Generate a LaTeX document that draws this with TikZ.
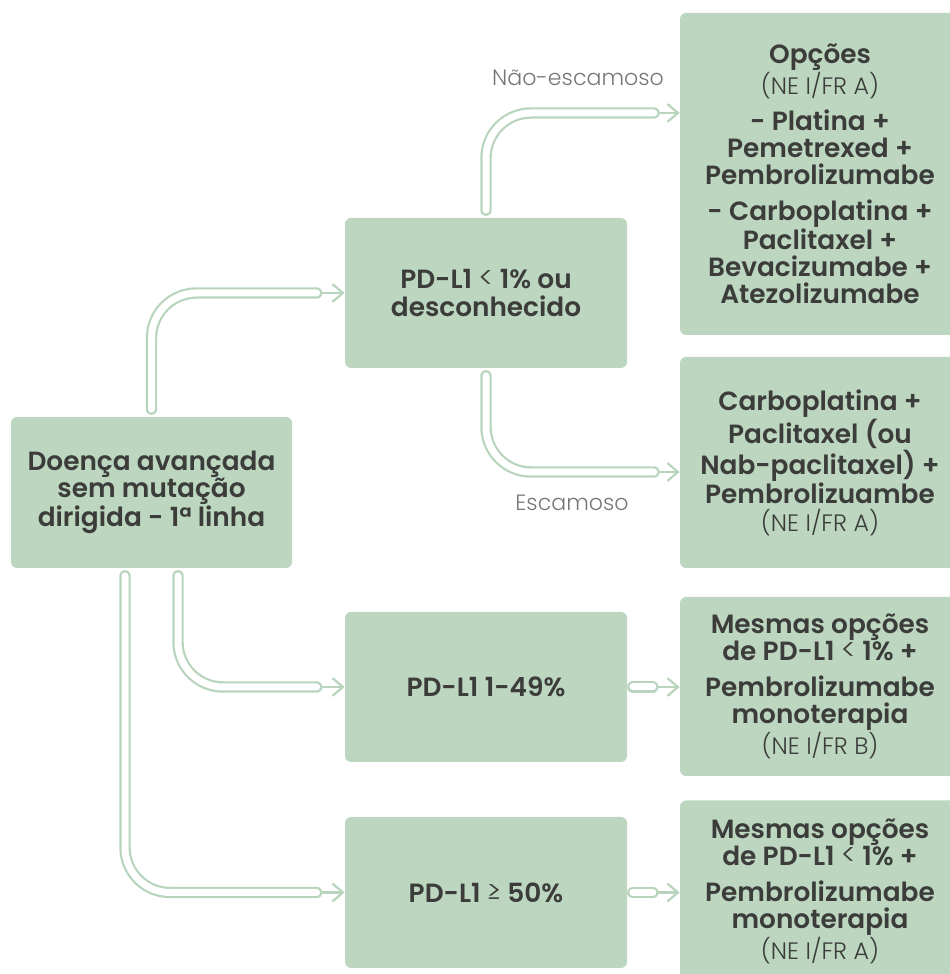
\documentclass[tikz,border=0pt]{standalone}
\usepackage{fontspec}
\setmainfont{Poppins}[BoldFont={Poppins SemiBold}]
\newfontfamily\lightfont{Poppins Light}
\usetikzlibrary{
  arrows.meta,
  positioning
}
\definecolor{boxgreen}{RGB}{188,214,192}
\definecolor{pipegreen}{RGB}{184,212,188}
\definecolor{inkgray}{RGB}{60,60,59}
\definecolor{labelgray}{RGB}{118,118,118}
\newcommand{\nefr}[1]{{\lightfont\mdseries\fontsize{13.5}{14}\selectfont #1}}
\newcommand{\thin}[1]{{\lightfont\mdseries\fontsize{17}{15.4}\selectfont #1}}

\begin{document}
\begin{tikzpicture}[
    box/.style={fill=boxgreen, rounded corners=0.12cm, text=inkgray, align=center,
      font=\fontsize{15}{15.4}\selectfont\bfseries, inner sep=0pt},
    midbox/.style={box, minimum width=5.64cm, minimum height=3.0cm},
    optbox/.style={box, minimum width=5.6cm},
    pipe/.style={draw=pipegreen, line width=1.25pt, double=white, double distance=0.14cm,
      line cap=round, rounded corners=0.9cm},
    tip/.style={draw=pipegreen, line width=1.25pt, line cap=round,
      -{Straight Barb[length=0.2cm, width=0.34cm, line cap=round]}},
    branch/.style={text=labelgray, font=\lightfont\fontsize{12.6}{13}\selectfont}
  ]
  \path[use as bounding box, clip] (0,0) rectangle (19,19.48);

  % left and middle column
  \node[box, minimum width=5.62cm, minimum height=3.02cm] (doenca) at (3.03,9.63)
    {Doença avançada\\ sem mutação\\ dirigida - 1ª linha};
  \node[midbox] (pdA) at (9.72,13.62) {PD-L1 \thin{<} 1\% ou\\ desconhecido};
  \node[midbox] (pdB) at (9.72,5.74) {PD-L1 1-49\%};
  \node[midbox, minimum height=3.02cm] (pdC) at (9.72,1.63) {PD-L1 \thin{≥} 50\%};

  % right column
  \node[optbox, minimum height=6.44cm] (optA) at (16.4,16.0)
    {Opções\\ \nefr{(NE I/FR A)}\\[5pt]
     - Platina +\\ Pemetrexed +\\ Pembrolizumabe\\[5pt]
     - Carboplatina +\\ Paclitaxel +\\ Bevacizumabe +\\ Atezolizumabe};
  \node[optbox, minimum height=4.22cm] (optB) at (16.4,10.23)
    {Carboplatina +\\ Paclitaxel (ou\\ Nab-paclitaxel) +\\ Pembrolizuambe\\ \nefr{(NE I/FR A)}};
  \node[optbox, minimum height=3.58cm] (optC) at (16.4,5.75)
    {Mesmas opções\\ de PD-L1 \thin{<} 1\% +\\[5pt] Pembrolizumabe\\ monoterapia\\ \nefr{(NE I/FR B)}};
  \node[optbox, minimum height=3.62cm] (optD) at (16.4,1.66)
    {Mesmas opções\\ de PD-L1 \thin{<} 1\% +\\[5pt] Pembrolizumabe\\ monoterapia\\ \nefr{(NE I/FR A)}};

  % branch labels
  \node[branch] (nonsq) at (11.56,17.92) {Não-escamoso};
  \node[branch] (sq) at (11.44,9.42) {Escamoso};

  % pipe ends
  \coordinate (eA) at ([xshift=-0.56cm]pdA.west);
  \coordinate (eB) at ([xshift=-0.56cm]pdB.west);
  \coordinate (eC) at ([xshift=-0.56cm]pdC.west);
  \coordinate (eN) at (13.08,17.22);
  \coordinate (eS) at (13.08,10.04);

  % connectors
  \draw[pipe] ([yshift=0.15cm]doenca.north) |- (eA);
  \draw[tip] ([xshift=0.12cm]eA) -- (pdA.west);
  \draw[pipe] ([xshift=0.53cm,yshift=-0.15cm]doenca.south) |- (eB);
  \draw[tip] ([xshift=0.12cm]eB) -- (pdB.west);
  \draw[pipe] ([xshift=-0.53cm,yshift=-0.15cm]doenca.south) |- (eC);
  \draw[tip] ([xshift=0.12cm]eC) -- (pdC.west);

  \draw[pipe] ([yshift=0.15cm]pdA.north) |- (eN);
  \draw[tip] ([xshift=0.12cm]eN) -- (optA.west |- eN);
  \draw[pipe] ([yshift=-0.15cm]pdA.south) |- (eS);
  \draw[tip] ([xshift=0.12cm]eS) -- (optB.west |- eS);

  \draw[pipe] ([xshift=0.11cm]pdB.east) -- ([xshift=0.51cm]pdB.east);
  \draw[tip] ([xshift=0.62cm]pdB.east) -- (optC.west |- pdB.east);
  \draw[pipe] ([xshift=0.11cm]pdC.east) -- ([xshift=0.51cm]pdC.east);
  \draw[tip] ([xshift=0.62cm]pdC.east) -- (optD.west |- pdC.east);
\end{tikzpicture}
\end{document}
